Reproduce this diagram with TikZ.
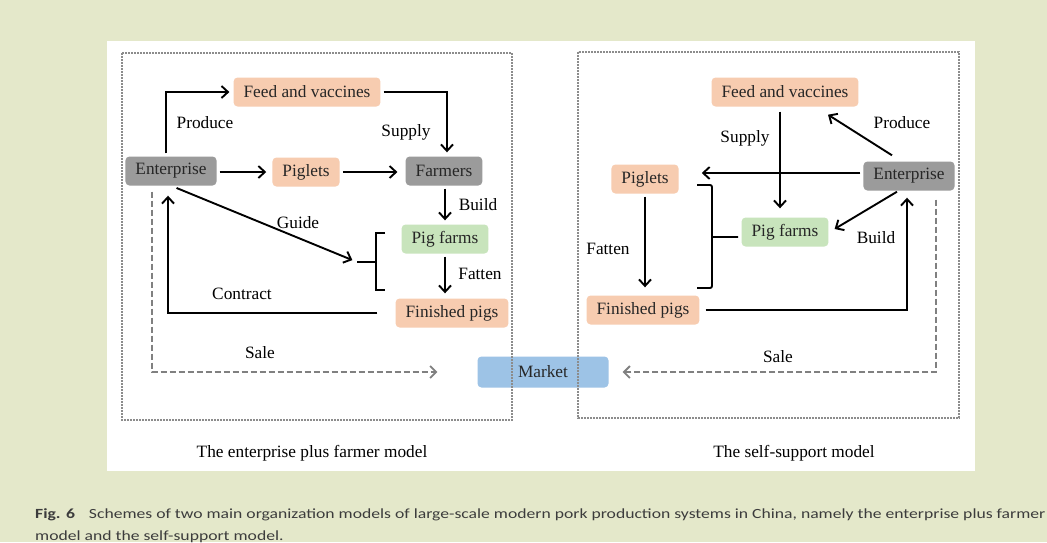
\documentclass[tikz,border=0pt]{standalone}
\usepackage{fontspec}
\setmainfont{Liberation Serif}
\newfontfamily\capfont[FakeStretch=1.26]{Carlito}
\usetikzlibrary{arrows.meta}

\definecolor{pagebg}{RGB}{228,232,202}
\definecolor{peach}{RGB}{247,204,176}
\definecolor{stone}{RGB}{155,155,155}
\definecolor{leaf}{RGB}{200,228,188}
\definecolor{sky}{RGB}{157,195,230}
\definecolor{dotgray}{RGB}{140,140,140}
\definecolor{salegray}{RGB}{128,128,128}
\definecolor{capgray}{RGB}{60,60,60}

\tikzset{
  box/.style={rounded corners=4pt, inner xsep=10pt, minimum height=29pt,
    font=\fontsize{17.3}{20}\selectfont, text=black!85},
  orangebox/.style={box, fill=peach},
  graybox/.style={box, fill=stone},
  greenbox/.style={box, fill=leaf},
  bluebox/.style={box, fill=sky, minimum width=131pt, minimum height=31pt},
  lbl/.style={font=\fontsize{17.3}{20}\selectfont},
  arr/.style={-{Straight Barb[length=6.5pt,width=12pt]}, line width=1.9pt,
    shorten <=3pt, shorten >=4pt},
  sale/.style={-{Straight Barb[length=6pt,width=12pt]}, salegray,
    line width=1.8pt, dash pattern=on 6pt off 3pt},
  frame/.style={dotgray, line width=1.6pt, dash pattern=on 1.6pt off 1.4pt},
  captxt/.style={anchor=base west, inner sep=0pt, text=capgray,
    font=\capfont\fontsize{14}{20}\selectfont}
}

\begin{document}
\begin{tikzpicture}[x=1pt,y=-1pt]
  \useasboundingbox (0,0) rectangle (1047,542);
  \fill[pagebg] (0,0) rectangle (1047,542);
  \fill[white] (107,41) rectangle (975,471);

  % enterprise plus farmer model
  \node[orangebox] (lfeed) at (307,92) {Feed and vaccines};
  \node[graybox] (lent) at (171,171) {Enterprise};
  \node[orangebox] (lpiglets) at (306,172) {Piglets};
  \node[graybox] (lfarmers) at (444,171) {Farmers};
  \node[greenbox] (lfarms) at (445,239) {Pig farms};
  \node[orangebox] (lfinished) at (452,313) {Finished pigs};

  % self-support model
  \node[orangebox] (rfeed) at (785,92) {Feed and vaccines};
  \node[graybox] (rent) at (909,176) {Enterprise};
  \node[orangebox] (rpiglets) at (645,179) {Piglets};
  \node[greenbox] (rfarms) at (785,232) {Pig farms};
  \node[orangebox] (rfinished) at (643,310) {Finished pigs};

  \node[bluebox] (market) at (543,372) {Market};

  % left arrows
  \draw[arr] ([xshift=-5pt]lent.north) |- (lfeed.west);
  \draw[arr] (lfeed.east) -| ([xshift=3pt]lfarmers.north);
  \draw[arr, shorten >=6pt] (lent.east |- lpiglets) -- (lpiglets.west);
  \draw[arr, shorten >=8pt] (lpiglets.east) -- (lpiglets.east -| lfarmers.west);
  \draw[arr] (lfarms.north |- lfarmers.south) -- (lfarms.north);
  \draw[arr, shorten >=5pt] (lfarms.south) -- (lfarms.south |- lfinished.north);
  \coordinate (lstem) at (357,262);
  \draw[line width=1.9pt] (385,233) -- (376,233) -- (376,290) -- (385,290)
    (376,262) -- (lstem);
  \draw[arr, shorten >=5pt, shorten <=6pt] (lent.south) -- (lstem);
  \draw[arr, shorten <=18pt, shorten >=10pt] (lfinished.west) -| ([xshift=-3pt]lent.south);
  \draw[sale, shorten >=40pt] ([xshift=-19pt,yshift=-6pt]lent.south) |- (market.west);

  \node[lbl] (lproduce) at (205,123) {Produce};
  \node[lbl] (lsupply) at (406,132) {Supply};
  \node[lbl] (lbuild) at (478,205) {Build};
  \node[lbl] (lguide) at (298,223) {Guide};
  \node[lbl] (lfatten) at (480,274) {Fatten};
  \node[lbl] (lcontract) at (242,294) {Contract};
  \node[lbl] (lsale) at (260,353) {Sale};

  % right arrows
  \draw[arr, shorten <=0pt, shorten >=0pt] ([xshift=-17pt,yshift=6pt]rent.north)
    -- ([xshift=43pt,yshift=-8pt]rfeed.south);
  \draw[arr, shorten <=5pt, shorten >=9pt] ([xshift=-5pt]rfeed.south) -- ([xshift=-5pt]rfarms.north);
  \draw[arr, shorten >=23pt] ([yshift=3pt]rent.west) -- ([yshift=3pt]rent.west -| rpiglets.east);
  \draw[arr, shorten <=0pt, shorten >=0pt] ([xshift=-12pt,yshift=-1pt]rent.south)
    -- ([xshift=6pt,yshift=3pt]rfarms.east);
  \draw[arr, shorten >=8pt] (rpiglets.south) -- (rpiglets.south |- rfinished.north);
  \coordinate (rstem) at (738,237);
  \draw[line width=1.9pt, rounded corners=2pt] (697,185) -- (712,185) -- (712,288) -- (697,288)
    (712,237) -- (rstem);
  \draw[arr, shorten <=6pt, shorten >=7pt] (rfinished.east) -| ([xshift=-2pt]rent.south);
  \draw[sale, shorten >=14pt] ([xshift=27pt,yshift=-9pt]rent.south) |- (market.east);

  \node[lbl] (rproduce) at (902,123) {Produce};
  \node[lbl] (rsupply) at (745,138) {Supply};
  \node[lbl] (rbuild) at (876,238) {Build};
  \node[lbl] (rfatten) at (608,249) {Fatten};
  \node[lbl] (rsale) at (778,357) {Sale};

  % dotted frames
  \draw[frame] (122,53) rectangle (512,420);
  \draw[frame] (578,52) rectangle (959,418);

  \node[lbl] (ltitle) at (312,453) {The enterprise plus farmer model};
  \node[lbl] (rtitle) at (794,453) {The self-support model};

  % caption
  \node[captxt] (figcap) at (35,518)
    {\textbf{Fig. 6}\hspace{14pt}Schemes of two main organization models of large-scale modern pork production systems in China, namely the enterprise plus farmer};
  \node[captxt] (figcap2) at (35,540) {model and the self-support model.};
\end{tikzpicture}
\end{document}
